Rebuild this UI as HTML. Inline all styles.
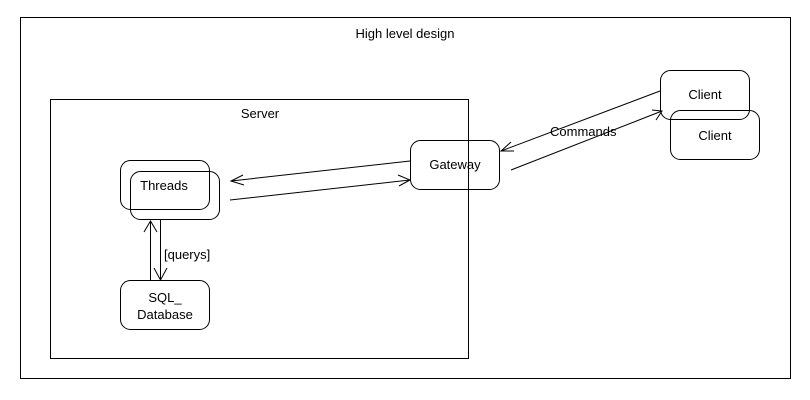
<!DOCTYPE html>
<html><head><style>body{margin:0;background:#fff}svg{display:block}text{font-family:"Liberation Sans",Arial,sans-serif;font-size:13px;fill:#000}</style></head>
<body>
<svg width="810" height="400" viewBox="0 0 810 400">
<rect width="810" height="400" fill="#fff"/>
<g fill="none" stroke="#000" stroke-width="1">
<rect x="20.5" y="17.5" width="770" height="361"/>
<rect x="50.5" y="99.5" width="418" height="259"/>
<rect x="120.5" y="160.5" width="89" height="49" rx="10"/>
<rect x="130.5" y="171.5" width="89" height="48" rx="10"/>
<rect x="120.5" y="280.5" width="89" height="49" rx="10"/>
<rect x="410.5" y="140.5" width="89" height="49" rx="10"/>
<rect x="670.5" y="110.5" width="89" height="49" rx="10"/>
<rect x="660.5" y="70.5" width="89" height="49" rx="10"/>
<line x1="410" y1="161" x2="231" y2="181"/>
<polyline points="243,175 231,181 244,185"/>
<line x1="230" y1="200" x2="410" y2="180"/>
<polyline points="398,175 410,180 399,186"/>
<line x1="660" y1="91" x2="501" y2="151"/>
<polyline points="511,142 501,151 514,151"/>
<line x1="511" y1="170" x2="662" y2="111"/>
<polyline points="652,110 662,111 656,120"/>
<line x1="150.5" y1="280" x2="150.5" y2="221"/>
<polyline points="144,232 150.5,221 157,232"/>
<line x1="160.5" y1="220" x2="160.5" y2="280"/>
<polyline points="154,268 160.5,280 167,268"/>
</g>
<text x="405" y="38" text-anchor="middle">High level design</text>
<text x="260" y="118" text-anchor="middle">Server</text>
<text x="164" y="190" text-anchor="middle">Threads</text>
<text x="164" y="259">[querys]</text>
<text x="165" y="302" text-anchor="middle">SQL_</text>
<text x="165" y="319" text-anchor="middle">Database</text>
<text x="455" y="169" text-anchor="middle">Gateway</text>
<text x="705" y="99" text-anchor="middle">Client</text>
<text x="715" y="140" text-anchor="middle">Client</text>
<text x="550" y="136">Commands</text>
</svg>
</body></html>
